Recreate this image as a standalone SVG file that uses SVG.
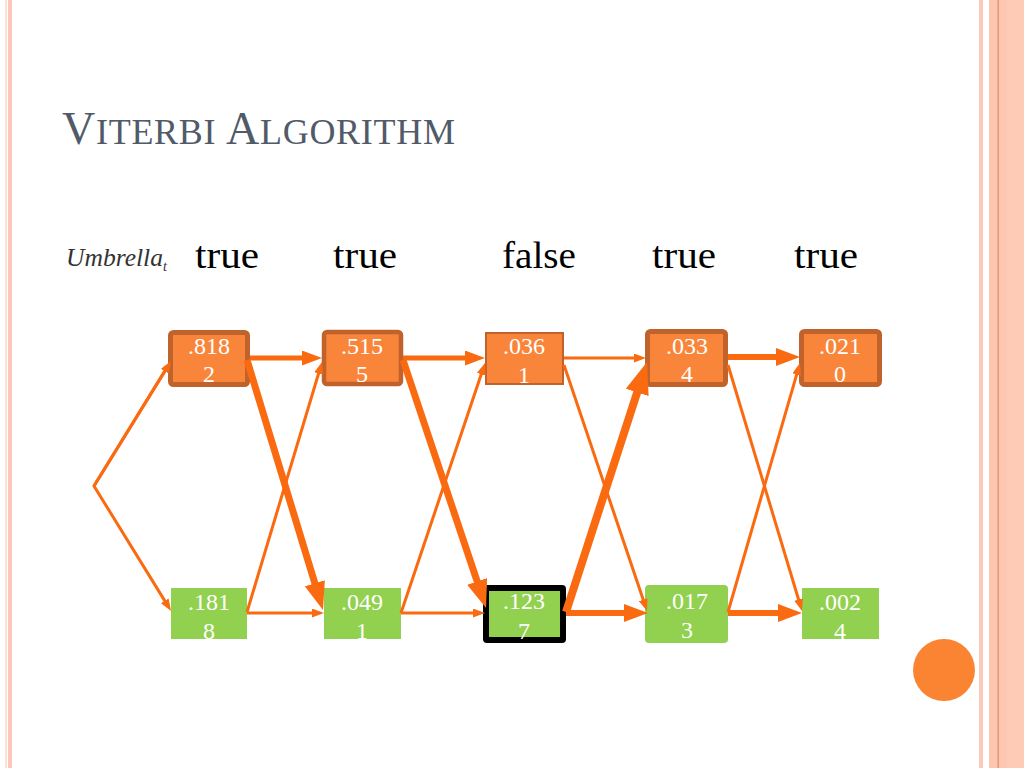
<svg xmlns="http://www.w3.org/2000/svg" width="1024" height="768" viewBox="0 0 1024 768">
<defs>
<style>
.hdr{font-family:"Liberation Serif",serif;font-size:38px;fill:#000}
.ttl{font-family:"Liberation Serif",serif;fill:#515a68}
.num{font-family:"Liberation Serif",serif;font-size:24px;fill:#fff;text-anchor:middle}
.orb{fill:#f9853b;stroke:#c0622b}
.gr{fill:#92d050}
.e{stroke:#fa6a10;fill:none;marker-end:url(#ah)}
</style>
<marker id="ah" viewBox="0 0 4 3" refX="2" refY="1.5" markerWidth="4" markerHeight="3" markerUnits="strokeWidth" orient="auto">
<path d="M0,0 L4,1.5 L0,3 z" fill="#fa6a10"/>
</marker>
</defs>
<rect width="1024" height="768" fill="#fff"/>
<g id="frame">
<rect x="5" y="0" width="2" height="768" fill="#fbe2d4"/>
<rect x="8" y="0" width="4" height="768" fill="#fdc6b8"/>
<rect x="979" y="0" width="4" height="768" fill="#fbcab8"/>
<rect x="989" y="0" width="35" height="768" fill="#fcc6b0"/>
<rect x="1007" y="0" width="17" height="768" fill="#fdcbb6"/>
<rect x="997.5" y="0" width="1.5" height="768" fill="#e39a78"/>
</g>
<g id="title">
<text class="ttl" x="62" y="144" textLength="393" lengthAdjust="spacing"><tspan font-size="46">V</tspan><tspan font-size="36">ITERBI</tspan><tspan font-size="46"> A</tspan><tspan font-size="36">LGORITHM</tspan></text>
</g>
<g id="headers">
<text x="66" y="266" font-family="Liberation Serif,serif" font-style="italic" font-size="26" fill="#333" textLength="97" lengthAdjust="spacingAndGlyphs">Umbrella</text>
<text x="163" y="271" font-family="Liberation Serif,serif" font-style="italic" font-size="14" fill="#333">t</text>
<text class="hdr" x="195" y="268" textLength="64" lengthAdjust="spacingAndGlyphs">true</text>
<text class="hdr" x="333" y="268" textLength="64" lengthAdjust="spacingAndGlyphs">true</text>
<text class="hdr" x="502" y="268" textLength="74" lengthAdjust="spacingAndGlyphs">false</text>
<text class="hdr" x="652" y="268" textLength="64" lengthAdjust="spacingAndGlyphs">true</text>
<text class="hdr" x="794" y="268" textLength="64" lengthAdjust="spacingAndGlyphs">true</text>
</g>
<g id="n8182"><rect class="orb" x="170.5" y="332.5" width="77" height="52" rx="3" stroke-width="5"/><text class="num" x="209" y="354">.818</text><text class="num" x="209" y="382">2</text></g>
<g id="n5155"><rect class="orb" x="324" y="332" width="77" height="52" rx="3" stroke-width="4.5"/><text class="num" x="362" y="354">.515</text><text class="num" x="362" y="382">5</text></g>
<g id="n0361"><rect class="orb" x="486" y="333" width="77" height="51" stroke-width="2"/><text class="num" x="524" y="354">.036</text><text class="num" x="524" y="383">1</text></g>
<g id="n0334"><rect class="orb" x="647.5" y="331.5" width="78" height="53" rx="3" stroke-width="5"/><text class="num" x="687" y="354">.033</text><text class="num" x="687" y="382">4</text></g>
<g id="n0210"><rect class="orb" x="801.5" y="331.5" width="78" height="53" rx="3" stroke-width="5"/><text class="num" x="840" y="354">.021</text><text class="num" x="840" y="382">0</text></g>
<g id="n1818"><rect class="gr" x="171" y="588" width="76" height="51"/><text class="num" x="209" y="610">.181</text><text class="num" x="209" y="639">8</text></g>
<g id="n0491"><rect class="gr" x="324" y="588" width="77" height="51"/><text class="num" x="362" y="610">.049</text><text class="num" x="362" y="639">1</text></g>
<g id="n1237"><rect x="483" y="585" width="83" height="58" rx="4" fill="#000"/><rect class="gr" x="489" y="591" width="71" height="46"/><text class="num" x="524" y="609">.123</text><text class="num" x="524" y="639">7</text></g>
<g id="n0173"><rect class="gr" x="645" y="585" width="83" height="58" rx="4"/><text class="num" x="687" y="609">.017</text><text class="num" x="687" y="638">3</text></g>
<g id="n0024"><rect class="gr" x="802" y="588" width="77" height="51"/><text class="num" x="840" y="610">.002</text><text class="num" x="840" y="639">4</text></g>
<g id="connectors">
<polyline class="e" points="167.9,366.1 94,486 167.9,605.9" stroke-width="3"/>
<line class="e" x1="94" y1="486" x2="167.9" y2="366.1" stroke-width="3"/>
<line class="e" x1="250" y1="358" x2="312" y2="358" stroke-width="5"/>
<line class="e" x1="247" y1="360" x2="318.9" y2="596.6" stroke-width="7"/>
<line class="e" x1="247" y1="612" x2="320.3" y2="367.7" stroke-width="3"/>
<line class="e" x1="247" y1="613" x2="318" y2="613" stroke-width="3"/>
<line class="e" x1="403" y1="358" x2="475" y2="358" stroke-width="5"/>
<line class="e" x1="403" y1="360" x2="481.6" y2="594.7" stroke-width="7"/>
<line class="e" x1="401" y1="613" x2="483.1" y2="368.7" stroke-width="3"/>
<line class="e" x1="401" y1="613" x2="479" y2="613" stroke-width="3"/>
<line class="e" x1="564" y1="358" x2="640" y2="358" stroke-width="3"/>
<line class="e" x1="564" y1="365" x2="645.1" y2="605.3" stroke-width="3"/>
<line class="e" x1="566" y1="612" x2="642.1" y2="377.2" stroke-width="8"/>
<line class="e" x1="566" y1="613" x2="636" y2="613" stroke-width="6"/>
<line class="e" x1="728" y1="357" x2="788" y2="357" stroke-width="6"/>
<line class="e" x1="728" y1="365" x2="800.3" y2="605.3" stroke-width="3"/>
<line class="e" x1="728" y1="612" x2="798.3" y2="368.8" stroke-width="3"/>
<line class="e" x1="728" y1="613" x2="790" y2="613" stroke-width="6"/>
</g>
<circle id="deco" cx="944" cy="670" r="31" fill="#fb8433"/>
</svg>
